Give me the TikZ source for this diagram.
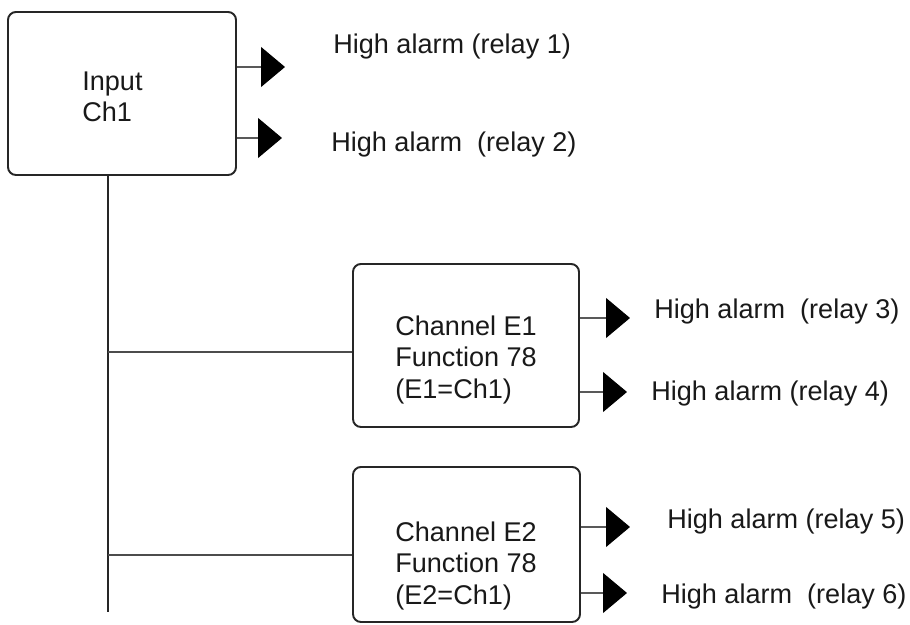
\documentclass[tikz,border=0pt]{standalone}
\usepackage{fontspec}
\setmainfont{Liberation Sans}
\usetikzlibrary{arrows.meta}
\begin{document}
\begin{tikzpicture}[
    box/.style={draw=black!85, line width=1.1pt, rounded corners=4.5pt},
    txt/.style={anchor=west, inner sep=0pt, align=left, text=black!90,
                font=\fontsize{15.4}{17.8}\selectfont},
    lab/.style={txt},
    wire/.style={draw=black!70, line width=0.8pt},
    alarm/.style={draw=black!65, line width=0.6pt,
                  -{Triangle[length=4.8mm, width=8mm, color=black]}}
]
\useasboundingbox (0,0) rectangle (18.2,12.5);

% boxes
\node[box, minimum width=4.56cm, minimum height=3.26cm] (in) at (2.44,10.63) {};
\node[box, minimum width=4.52cm, minimum height=3.26cm] (e1) at (9.32,5.59) {};
\node[box, minimum width=4.54cm, minimum height=3.10cm] (e2) at (9.33,1.61) {};
\node[txt] (inTxt) at (1.64,10.56) {Input\\Ch1};
\node[txt] (e1Txt) at (7.90,5.30) {Channel E1\\Function 78\\(E1=Ch1)};
\node[txt] (e2Txt) at (7.90,1.18) {Channel E2\\Function 78\\(E2=Ch1)};

% trunk and branches
\coordinate (bot) at (2.16,0.26);
\coordinate (j1)  at (2.16,5.46);
\coordinate (j2)  at (2.16,1.40);
\draw[wire, draw=black!85] (bot |- in.south) -- (bot);
\draw[wire] (j1) -- (j1 -| e1.west);
\draw[wire] (j2) -- (j2 -| e2.west);

% alarm outputs
\coordinate (a1) at (5.70,11.16);
\coordinate (a2) at (5.64,9.74);
\coordinate (a3) at (12.60,6.14);
\coordinate (a4) at (12.54,4.66);
\coordinate (a5) at (12.60,1.96);
\coordinate (a6) at (12.54,0.64);
\draw[alarm] (a1 -| in.east) -- (a1);
\draw[alarm] (a2 -| in.east) -- (a2);
\draw[alarm] (a3 -| e1.east) -- (a3);
\draw[alarm] (a4 -| e1.east) -- (a4);
\draw[alarm] (a5 -| e2.east) -- (a5);
\draw[alarm] (a6 -| e2.east) -- (a6);

\node[lab] (l1) at (6.66,11.56) {High alarm (relay 1)};
\node[lab] (l2) at (6.62,9.60)  {High alarm\ \ (relay 2)};
\node[lab] (l3) at (13.08,6.26) {High alarm\ \ (relay 3)};
\node[lab] (l4) at (13.02,4.62) {High alarm (relay 4)};
\node[lab] (l5) at (13.34,2.06) {High alarm (relay 5)};
\node[lab] (l6) at (13.22,0.56) {High alarm\ \ (relay 6)};
\end{tikzpicture}
\end{document}
